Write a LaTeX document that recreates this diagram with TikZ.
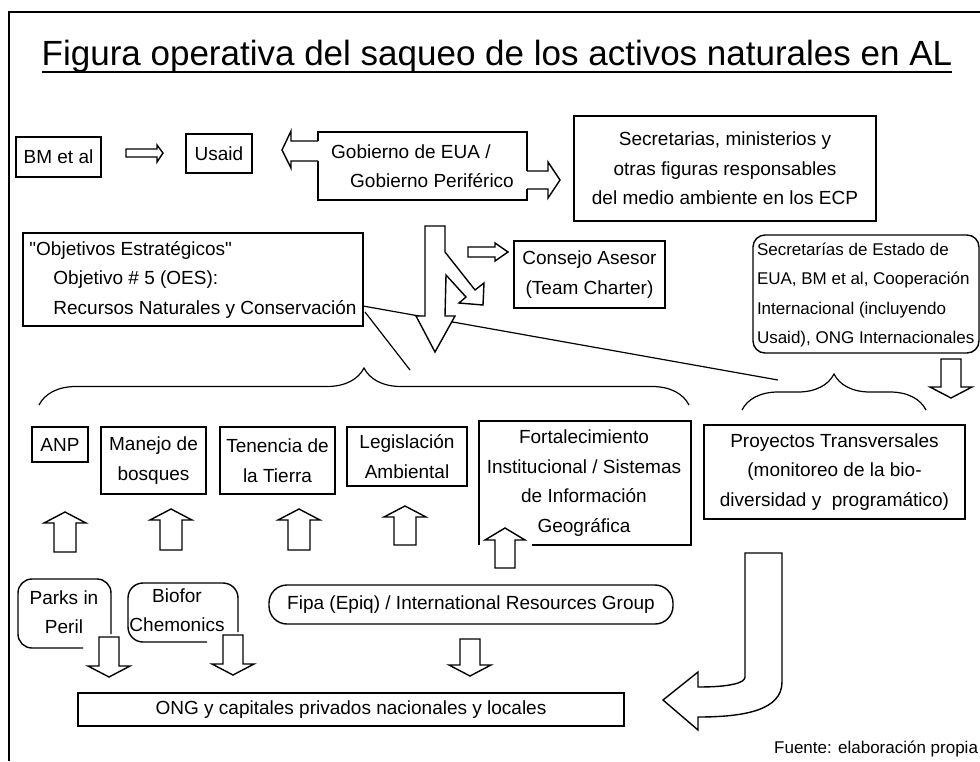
\documentclass[tikz,border=0pt]{standalone}
\usepackage{fontspec}
\setmainfont{Liberation Sans}
\newfontfamily\qfont{Liberation Sans}[Ligatures=ResetAll]
\usetikzlibrary{decorations.pathreplacing,calc}
\newcommand{\myuarrow}[3]{\draw[blk] ({#1-11},#2) -- ({#1+11},#2) -- ({#1+11},#3) -- ({#1+21},#3) -- (#1,{#3-11}) -- ({#1-21},#3) -- ({#1-11},#3) -- cycle;}
\newcommand{\mydarrow}[3]{\draw[blk] ({#1-10},#2) -- ({#1+10},#2) -- ({#1+10},#3) -- ({#1+21},#3) -- (#1,{#3+11}) -- ({#1-21},#3) -- ({#1-10},#3) -- cycle;}
\begin{document}
\begin{tikzpicture}[x=1pt,y=-1pt,
  every node/.style={inner sep=0pt, outer sep=0pt},
  txt/.style={align=center, font=\fontsize{19}{29.5}\selectfont},
  bx/.style={txt, draw, line width=1.4pt},
  ol/.style={line width=1.4pt},
  blk/.style={draw, line width=1.4pt, fill=white, line join=miter},
  ln/.style={line width=1.2pt},
]
\useasboundingbox (0,0) rectangle (980,761);
% frame
\draw[line width=1.5pt] (9,761) -- (9,12) -- (980,12);
% title
\node[font=\fontsize{35}{40}\selectfont, anchor=base] (title) at (497,65) {Figura operativa del saqueo de los activos naturales en AL};
\draw[ol] ($(title.base west)+(0,7)$) -- ($(title.base east)+(0,7)$);

% top row
\node[bx, minimum width=85pt, minimum height=40pt] (bm) at (58.5,157) {BM et al};
\node[bx, minimum width=66pt, minimum height=39pt] (usaid) at (219,153.5) {Usaid};
\draw[blk] (126,149) -- (157,149) -- (157,145) -- (163,153) -- (157,162) -- (157,157) -- (126,157) -- cycle;

\node[txt, align=left, minimum width=209pt, minimum height=68pt] (gob) at (422.5,166) {Gobierno de EUA /\\\hspace*{19pt}Gobierno Periférico};
\draw[ol] (318,141) -- (318,132) -- (527,132) -- (527,171);
\draw[ol] (527,189) -- (527,200) -- (318,200) -- (318,161);
\draw[blk] (318,141) -- (291,141) -- (291,131) -- (282,150) -- (291,168) -- (291,161) -- (318,161);
\draw[blk] (527,171) -- (548,171) -- (548,162) -- (560,180) -- (548,198) -- (548,189) -- (527,189);

\node[bx, minimum width=302pt, minimum height=105pt] (ecp) at (725,168.5) {Secretarias, ministerios y\\otras figuras responsables\\del medio ambiente en los ECP};

% objetivos
\node[bx, align=left, minimum width=340pt, minimum height=93pt] (obj) at (193,279.5) {{\qfont"}Objetivos Estratégicos{\qfont"}\\\hspace*{24pt}Objetivo \# 5 (OES):\\\hspace*{24pt}Recursos Naturales y Conservación};
\coordinate (l1) at (778,380);
\coordinate (l2) at (410,370);
\draw[ln] ($(obj.south east)+(0,-20)$) -- (l1);
\draw[ln] ($(obj.south east)+(2,-14)$) -- (l2);

% consejo
\node[bx, minimum width=151pt, minimum height=67pt] (cons) at (589.5,274.5) {Consejo Asesor\\(Team Charter)};
\draw[blk] (468,247) -- (495,247) -- (495,243) -- (508,252) -- (495,261) -- (495,257) -- (468,257) -- cycle;

% big down arrow with branch
\draw[blk] (425,226) -- (445,226) -- (445,252) -- (475,290) -- (484,283) -- (483,305) -- (459,303) -- (466,297) -- (446,275) -- (445,316) -- (455,316) -- (435,352) -- (416,316) -- (425,316) -- cycle;

% secretarias de estado
\draw[ol, rounded corners=12pt] (753,235) rectangle (979,353);
\node[anchor=west, align=left, font=\fontsize{17}{29.3}\selectfont] (sede) at (757,295) {Secretarías de Estado de\\EUA, BM et al, Cooperación\\Internacional (incluyendo\\Usaid), ONG Internacionales};
\mydarrow{951}{359}{387}

% braces
\draw[ln, decorate, decoration={brace, amplitude=37pt}] (39,405) -- (689,405);
\draw[ln, decorate, decoration={brace, amplitude=36pt}] (742,410) -- (926,410);

% component boxes
\node[bx, minimum width=56pt, minimum height=35pt] (anp) at (60,444.5) {ANP};
\node[bx, minimum width=105pt, minimum height=67pt] (man) at (153.5,460.5) {Manejo de\\bosques};
\node[bx, minimum width=115pt, minimum height=67pt] (ten) at (277.5,460.5) {Tenencia de\\la Tierra};
\node[bx, minimum width=120pt, minimum height=59pt] (leg) at (407,456.5) {Legislación\\Ambiental};
\node[txt] (fort) at (584,483) {Fortalecimiento\\Institucional / Sistemas\\de Información\\Geográfica};
\draw[ol] (532,545) -- (691,545) -- (691,421) -- (479,421) -- (479,545);
\node[bx, minimum width=261pt, minimum height=94pt] (proy) at (834.5,472) {Proyectos Transversales\\(monitoreo de la bio-\\diversidad y\ \ programático)};

% up arrows
\myuarrow{65}{552}{523}
\myuarrow{171}{550}{520}
\myuarrow{299}{550}{520}
\myuarrow{405}{545}{517}
\draw[blk] (495,568) -- (515,568) -- (515,540) -- (525,540) -- (505,528) -- (485,540) -- (495,540) -- cycle;

% executors
\draw[ol, rounded corners=14pt] (83,648) -- (18,648) -- (18,579) -- (111,579) -- (111,634);
\node[txt] (parks) at (64,612) {Parks in\\Peril};
\draw[ol, rounded corners=15pt] (207,642) -- (128,642) -- (128,583) -- (238,583) -- (238,632);
\node[txt] (bio) at (177,610) {Biofor\\Chemonics};
\node[bx, rounded corners=18pt, minimum width=404pt, minimum height=39pt] (fipa) at (471,604.5) {Fipa (Epiq) / International Resources Group};
\mydarrow{109}{637}{666}
\mydarrow{233}{635}{664}
\mydarrow{470}{639}{665}

% ONG
\node[bx, minimum width=546pt, minimum height=33pt] (ong) at (351,709.5) {ONG y capitales privados nacionales y locales};

% bent arrow
\draw[blk] (745,553) -- (782,553) -- (782,682) .. controls (782,710) and (745,717) .. (698,717) -- (698,730) -- (663,700) -- (698,672) -- (698,687) .. controls (730,687) and (745,683) .. (745,677) -- cycle;

% source
\node[anchor=east, font=\fontsize{17}{20}\selectfont] (src) at (978,749) {Fuente: elaboración propia};
\end{tikzpicture}
\end{document}
